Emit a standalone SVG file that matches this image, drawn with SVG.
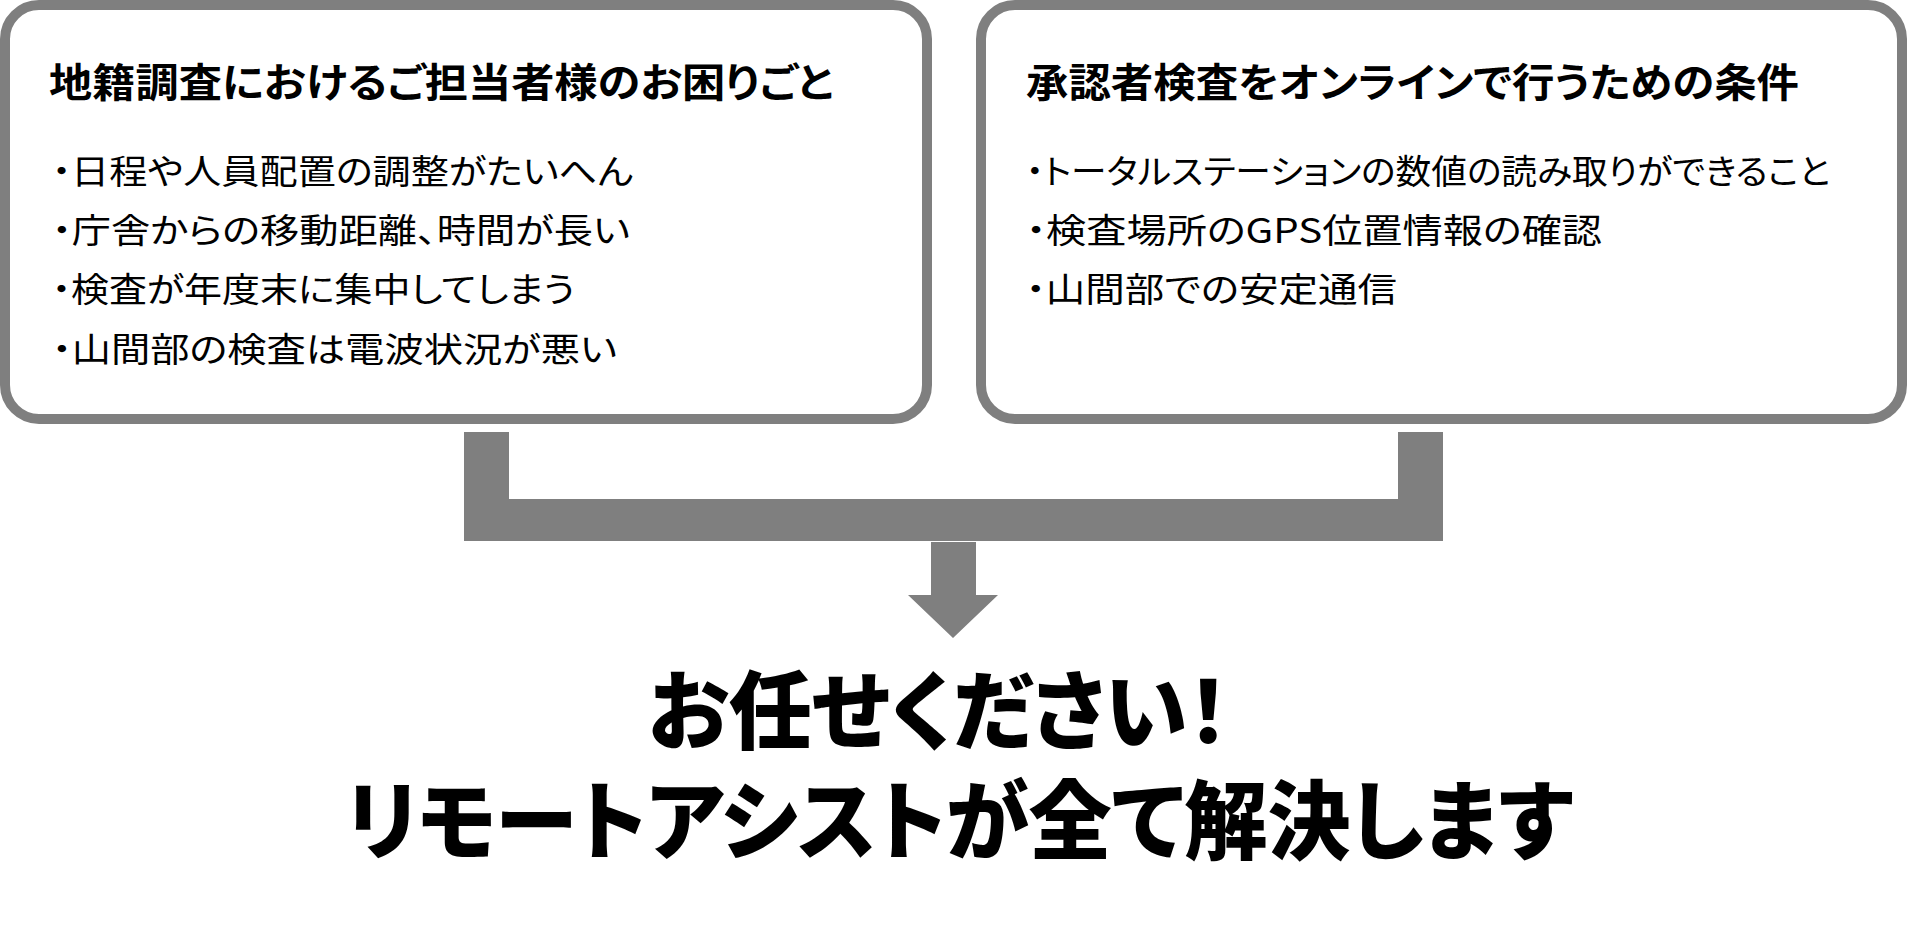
<svg xmlns="http://www.w3.org/2000/svg" width="1908" height="929" viewBox="0 0 1908 929">
<style>
.box{fill:#ffffff;stroke:#7f7f7f;stroke-width:10}
.conn{fill:#7f7f7f;stroke:none}
text{font-family:"Noto Sans CJK JP","Noto Sans CJK SC",sans-serif;fill:#000000;font-feature-settings:"palt"}
.title{font-size:40px;font-weight:700}
.item{font-size:34px;font-weight:400}
.big{font-size:86px;font-weight:900}
</style>
<rect width="1908" height="929" fill="#ffffff"/>
<g id="node-left">
<rect class="box" x="5" y="5" width="922" height="414" rx="34" ry="34"/>
<text class="title" x="49" y="97" textLength="784" lengthAdjust="spacingAndGlyphs">地籍調査におけるご担当者様のお困りごと</text>
<text class="item" x="52" y="184" textLength="581" lengthAdjust="spacingAndGlyphs">・日程や人員配置の調整がたいへん</text>
<text class="item" x="52" y="243" textLength="578" lengthAdjust="spacingAndGlyphs">・庁舎からの移動距離、時間が長い</text>
<text class="item" x="52" y="302" textLength="523" lengthAdjust="spacingAndGlyphs">・検査が年度末に集中してしまう</text>
<text class="item" x="52" y="362" textLength="565" lengthAdjust="spacingAndGlyphs">・山間部の検査は電波状況が悪い</text>
</g>
<g id="node-right">
<rect class="box" x="981" y="5" width="921" height="414" rx="34" ry="34"/>
<text class="title" x="1026" y="97" textLength="773" lengthAdjust="spacingAndGlyphs">承認者検査をオンラインで行うための条件</text>
<text class="item" x="1026" y="184" textLength="804" lengthAdjust="spacingAndGlyphs">・トータルステーションの数値の読み取りができること</text>
<text class="item" x="1026" y="243" textLength="576" lengthAdjust="spacingAndGlyphs">・検査場所のGPS位置情報の確認</text>
<text class="item" x="1026" y="302" textLength="371" lengthAdjust="spacingAndGlyphs">・山間部での安定通信</text>
</g>
<g id="connectors">
<path class="conn" d="M464,432 H509 V499 H1398 V432 H1443 V541 H464 Z"/>
<path class="conn" d="M931,542 H976 V595 H998 L953,638 L908,595 H931 Z"/>
</g>
<g id="node-result">
<text class="big" x="648" y="743" textLength="581" lengthAdjust="spacingAndGlyphs">お任せください！</text>
<text class="big" x="346" y="853" textLength="1227" lengthAdjust="spacingAndGlyphs">リモートアシストが全て解決します</text>
</g>
</svg>
